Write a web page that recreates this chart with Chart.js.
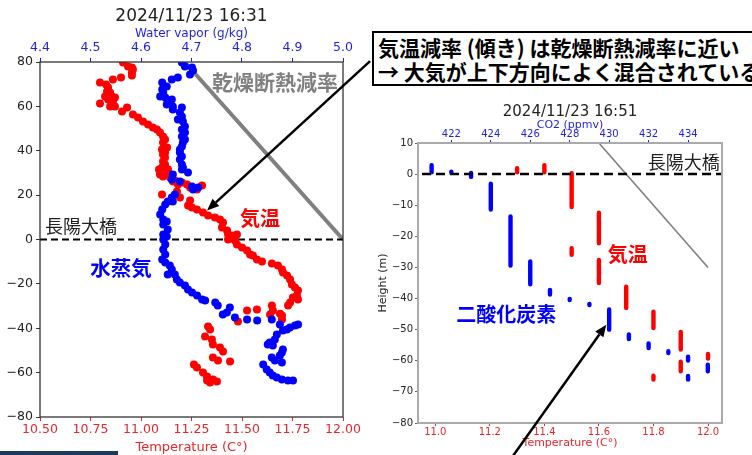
<!DOCTYPE html>
<html>
<head>
<meta charset="utf-8">
<script src="https://cdn.jsdelivr.net/npm/chart.js@4.4.1/dist/chart.umd.min.js"></script>
<style>
body { margin: 0; width: 752px; height: 455px; overflow: hidden; background: #fff; position: relative; }
canvas { position: absolute; }
#left { left: 0; top: 0; }
#right { left: 370px; top: 90px; }
#note {
    position: absolute; left: 372px; top: 31px; width: 420px; height: 55px;
    border: 2px solid #000; background: #fff; padding: 2px 4px; box-sizing: border-box;
    font: bold 21px "Noto Sans CJK JP", sans-serif; line-height: 24px; white-space: nowrap; color: #000;
}
#bar { position: absolute; left: 0; top: 451px; width: 118px; height: 4px; background: #1d3a5c; }
</style>
</head>
<body>
<canvas id="left" width="380" height="455"></canvas>
<canvas id="right" width="382" height="365"></canvas>
<div id="note">気温減率 (傾き) は乾燥断熱減率に近い<br>→ 大気が上下方向によく混合されている</div>
<div id="bar"></div>
<script>
// 16:31 profile: temperature (C) and water vapor (g/kg) against height (m)
const leftTempC = [10.911, 10.936, 10.955, 10.960, 10.955, 10.955, 10.901, 10.797, 10.827, 10.861, 10.837, 10.832, 10.847, 10.822, 10.856, 10.861, 10.871, 10.837, 10.797, 10.871, 10.847, 10.906, 10.931, 10.960, 10.985, 11.010, 11.035, 11.059, 11.079, 11.094, 11.109, 11.119, 11.109, 11.129, 11.104, 11.119, 11.109, 11.119, 11.109, 11.119, 11.104, 11.089, 11.129, 11.094, 11.109, 11.134, 11.144, 11.168, 11.183, 11.228, 11.243, 11.277, 11.302, 11.158, 11.203, 11.178, 11.104, 11.193, 11.243, 11.233, 11.252, 11.277, 11.307, 11.332, 11.366, 11.391, 11.406, 11.401, 11.426, 11.431, 11.450, 11.475, 11.431, 11.465, 11.475, 11.500, 11.525, 11.540, 11.554, 11.574, 11.599, 11.648, 11.678, 11.698, 11.703, 11.723, 11.738, 11.747, 11.762, 11.777, 11.772, 11.752, 11.777, 11.738, 11.728, 11.648, 11.653, 11.639, 11.698, 11.698, 11.688, 11.574, 11.525, 11.480, 11.332, 11.342, 11.317, 11.351, 11.356, 11.391, 11.406, 11.356, 11.441, 11.381, 11.262, 11.277, 11.307, 11.327, 11.356, 11.342, 11.376, 11.327];
const leftTempH = [79.8, 78.0, 77.5, 76.6, 75.3, 73.9, 73.0, 70.8, 69.9, 72.1, 68.5, 66.7, 66.3, 64.5, 64.5, 62.2, 64.0, 63.1, 61.3, 59.9, 59.9, 57.7, 59.5, 56.3, 55.0, 53.2, 51.8, 50.5, 49.6, 48.2, 46.4, 45.1, 43.7, 41.5, 40.6, 39.2, 38.3, 37.0, 35.2, 33.8, 32.5, 31.5, 30.6, 29.3, 28.4, 31.5, 27.9, 26.6, 24.8, 24.8, 23.4, 22.5, 24.3, 26.1, 25.7, 21.6, 20.3, 18.9, 17.6, 15.3, 14.4, 13.5, 12.2, 10.8, 9.9, 9.0, 7.7, 5.4, 4.1, 2.3, 1.8, 2.3, 0.0, -0.5, -2.3, -3.6, -5.0, -6.8, -7.2, -9.0, -9.9, -10.8, -11.7, -13.5, -14.9, -16.2, -18.0, -20.3, -21.6, -23.0, -25.2, -26.1, -27.0, -28.4, -29.7, -29.7, -32.0, -33.8, -34.3, -36.1, -33.5, -31.5, -32.0, -37.0, -39.2, -40.6, -43.7, -45.1, -47.3, -48.7, -50.5, -53.2, -55.0, -54.5, -56.3, -57.7, -59.9, -61.7, -63.1, -64.5, -64.0, -63.5];
const leftVaporGkg = [4.681, 4.687, 4.701, 4.703, 4.697, 4.673, 4.661, 4.642, 4.651, 4.642, 4.644, 4.638, 4.648, 4.653, 4.661, 4.651, 4.663, 4.663, 4.681, 4.677, 4.681, 4.673, 4.683, 4.687, 4.681, 4.687, 4.681, 4.687, 4.683, 4.681, 4.677, 4.677, 4.681, 4.677, 4.681, 4.683, 4.693, 4.681, 4.663, 4.661, 4.677, 4.701, 4.703, 4.713, 4.667, 4.661, 4.663, 4.653, 4.648, 4.642, 4.638, 4.644, 4.651, 4.644, 4.653, 4.644, 4.651, 4.644, 4.648, 4.644, 4.648, 4.642, 4.648, 4.657, 4.661, 4.653, 4.667, 4.671, 4.677, 4.687, 4.693, 4.701, 4.711, 4.721, 4.727, 4.747, 4.752, 4.776, 4.770, 4.762, 4.786, 4.810, 4.830, 4.859, 4.875, 4.895, 4.905, 4.911, 4.889, 4.881, 4.869, 4.865, 4.855, 4.851, 4.861, 4.881, 4.879, 4.875, 4.859, 4.865, 4.879, 4.842, 4.849, 4.855, 4.861, 4.869, 4.879, 4.891, 4.901];
const leftVaporH = [79.8, 78.0, 77.5, 76.2, 74.4, 73.0, 72.1, 70.8, 69.0, 67.6, 66.3, 64.5, 64.0, 62.2, 63.1, 60.8, 59.9, 58.6, 59.5, 57.2, 55.4, 54.1, 53.2, 50.9, 49.6, 48.2, 46.4, 45.1, 43.7, 41.9, 40.6, 39.2, 37.4, 36.1, 33.8, 32.5, 30.2, 31.5, 29.3, 27.0, 26.1, 23.9, 22.5, 23.4, 20.3, 18.9, 17.1, 17.1, 15.8, 13.5, 11.3, 9.0, 8.1, 6.8, 4.5, 2.3, 1.4, 0.0, -2.3, -4.5, -6.8, -9.0, -10.4, -11.7, -13.5, -15.8, -15.8, -18.0, -19.4, -20.7, -22.5, -23.9, -25.2, -27.0, -27.5, -28.4, -29.7, -30.6, -32.9, -33.8, -35.2, -36.1, -36.5, -36.1, -38.3, -39.7, -38.8, -38.3, -40.6, -41.0, -42.8, -45.1, -46.4, -47.3, -47.8, -49.6, -50.9, -52.3, -53.2, -54.5, -55.4, -56.3, -58.6, -59.9, -61.3, -62.2, -63.1, -63.5, -63.5];

// 16:51 profile: each sensor value was held over a run of heights -> top and bottom of each run
const colTempC = [11.3, 11.4, 11.5, 11.5, 11.6, 11.6, 11.7, 11.8, 11.8, 11.9, 11.9, 12.0];
const colTempTop = [1.9, 2.9, 0.3, -23.8, -12.4, -27.6, -36.2, -44.2, -64.8, -50.7, -60.3, -57.8];
const colTempBottom = [0.6, 0.6, -10.6, -25.9, -22.2, -35.0, -43.0, -49.5, -66.0, -56.4, -63.4, -59.3];
const colCo2 = [421, 422, 423, 424, 425, 426, 427, 428, 429, 430, 431, 432, 433, 434, 434, 435];
const colCo2Top = [2.9, 0.8, 0.4, -3.1, -13.6, -28.1, -37.2, -40.1, -41.7, -43.5, -51.5, -54.4, -56.9, -58.7, -64.9, -61.3];
const colCo2Bottom = [0.6, 0.4, -0.9, -11.4, -29.4, -35.4, -38.7, -40.5, -42.1, -50.0, -53.0, -55.9, -57.5, -59.9, -66.0, -63.4];

// reference lines
const bridgeHeight = 0;
const dryLeftT = [12.0, 11.216];
const dryLeftH = [0, 80];
const dryRightT = [12.0, 11.59];
const dryRightH = [-30, 11];

const RED = '#ff0000';
const BLUE = '#0000ff';
const AX_RED = '#e8262b';
const AX_BLUE = '#1f1fe0';
const DEJAVU = '"DejaVu Sans", sans-serif';
const JP = '"Noto Sans CJK JP", sans-serif';

function minus(s) { return String(s).replace('-', '\u2212'); }
function pts(xs, ys) { return xs.map((v, i) => ({ x: v, y: ys[i] })); }
function columns(xs, tops, bottoms) {
    const out = [];
    xs.forEach((v, i) => { out.push({ x: v, y: tops[i] }, { x: v, y: bottoms[i] }, { x: v, y: null }); });
    return out;
}

const annotate = {
    id: 'annotate',
    afterDatasetsDraw(chart, args, opts) {
        const { ctx, chartArea: a } = chart;
        ctx.save();
        ctx.strokeStyle = opts.frameColor;
        ctx.lineWidth = opts.frameWidth;
        ctx.strokeRect(a.left, a.top, a.right - a.left, a.bottom - a.top);
        ctx.restore();
    },
    afterDraw(chart, args, opts) {
        const { ctx, scales: { x, y } } = chart;
        ctx.save();
        opts.labels.forEach(l => {
            ctx.font = l.font;
            ctx.fillStyle = l.color;
            ctx.textAlign = l.align || 'center';
            ctx.textBaseline = 'middle';
            ctx.fillText(l.text, x.getPixelForValue(l.x), y.getPixelForValue(l.y));
        });
        opts.arrows.forEach(ar => {
            const x0 = x.getPixelForValue(ar.from[0]), y0 = y.getPixelForValue(ar.from[1]);
            const x1 = x.getPixelForValue(ar.to[0]), y1 = y.getPixelForValue(ar.to[1]);
            const ang = Math.atan2(y1 - y0, x1 - x0), head = 12, half = 5;
            const bx = x1 - head * Math.cos(ang), by = y1 - head * Math.sin(ang);
            ctx.strokeStyle = '#000';
            ctx.fillStyle = '#000';
            ctx.lineWidth = 2.5;
            ctx.beginPath(); ctx.moveTo(x0, y0); ctx.lineTo(bx, by); ctx.stroke();
            ctx.beginPath();
            ctx.moveTo(x1, y1);
            ctx.lineTo(bx + half * Math.sin(ang), by - half * Math.cos(ang));
            ctx.lineTo(bx - half * Math.sin(ang), by + half * Math.cos(ang));
            ctx.closePath();
            ctx.fill();
        });
        ctx.restore();
    }
};

function scatterSet(xs, ys, color, axis) {
    return { data: pts(xs, ys), xAxisID: axis, pointRadius: 4, pointBorderWidth: 0,
        pointBackgroundColor: color, backgroundColor: color, borderColor: color };
}

new Chart(document.getElementById('left'), {
    type: 'scatter',
    data: {
        datasets: [
            scatterSet(leftVaporGkg, leftVaporH, BLUE, 'x2'),
            scatterSet(leftTempC, leftTempH, RED, 'x'),
            { data: [{ x: 10.5, y: bridgeHeight }, { x: 12.0, y: bridgeHeight }], xAxisID: 'x', showLine: true,
              borderColor: '#000', borderWidth: 2, borderDash: [7, 4], pointRadius: 0 },
            { data: pts(dryLeftT, dryLeftH), xAxisID: 'x', showLine: true, borderColor: '#808080', borderWidth: 4, pointRadius: 0 }
        ]
    },
    plugins: [annotate],
    options: {
        responsive: false, animation: false, events: [],
        layout: { padding: { left: 0, right: 37, top: 0, bottom: 0 } },
        plugins: {
            legend: { display: false }, tooltip: { enabled: false },
            title: { display: true, text: '2024/11/23 16:31', fullSize: false, color: '#222',
                font: { family: DEJAVU, size: 17, weight: 'normal', lineHeight: 1.2 }, padding: { top: 6, bottom: 0 } },
            annotate: {
                frameColor: '#333', frameWidth: 1.3,
                labels: [
                    { text: '乾燥断熱減率', x: 11.663, y: 71.2, color: '#808080', font: 'bold 21px ' + JP },
                    { text: '長陽大橋', x: 10.525, y: 5.9, color: '#222', font: '18px ' + JP, align: 'left' },
                    { text: '気温', x: 11.589, y: 9.7, color: RED, font: 'bold 20px ' + JP },
                    { text: '水蒸気', x: 10.901, y: -13.1, color: BLUE, font: 'bold 20.5px ' + JP }
                ],
                arrows: [{ from: [12.134, 80.4], to: [11.327, 13.1] }]
            }
        },
        scales: {
            x: { type: 'linear', position: 'bottom', min: 10.5, max: 12.0,
                afterFit: s => { s.height = 38; },
                border: { display: false },
                grid: { drawOnChartArea: false, tickLength: 4, tickColor: AX_RED },
                ticks: { stepSize: 0.25, color: AX_RED, padding: 1.5, maxRotation: 0, autoSkip: false,
                    font: { family: DEJAVU, size: 12.5 }, callback: v => v.toFixed(2) },
                title: { display: true, text: 'Temperature (C°)', color: AX_RED, font: { family: DEJAVU, size: 13 }, padding: { top: 0, bottom: 0 } } },
            x2: { type: 'linear', position: 'top', min: 4.4, max: 5.0,
                afterFit: s => { s.height = 35.6; },
                border: { display: false },
                grid: { drawOnChartArea: false, tickLength: 4, tickColor: AX_BLUE },
                ticks: { stepSize: 0.1, color: AX_BLUE, padding: 2.5, maxRotation: 0, autoSkip: false,
                    font: { family: DEJAVU, size: 12.5 }, callback: v => v.toFixed(1) },
                title: { display: true, text: 'Water vapor (g/kg)', color: AX_BLUE, font: { family: DEJAVU, size: 12 }, padding: { top: 0, bottom: 0 } } },
            y: { type: 'linear', min: -80, max: 80,
                afterFit: s => { s.width = 40; },
                border: { display: false },
                grid: { drawOnChartArea: false, tickLength: 4, tickColor: '#333' },
                ticks: { stepSize: 20, color: '#222', padding: 3, font: { family: DEJAVU, size: 12.5 }, callback: v => minus(v) } }
        }
    }
});

new Chart(document.getElementById('right'), {
    type: 'scatter',
    data: {
        datasets: [
            { data: [{ x: 10.9, y: bridgeHeight }, { x: 12.1, y: bridgeHeight }], xAxisID: 'x', showLine: true,
              borderColor: '#000', borderWidth: 2.5, borderDash: [9, 5], pointRadius: 0 },
            { data: columns(colCo2, colCo2Top, colCo2Bottom), xAxisID: 'x2', showLine: true, spanGaps: false,
              borderColor: BLUE, borderWidth: 4.4, borderCapStyle: 'round', pointRadius: 0 },
            { data: columns(colTempC, colTempTop, colTempBottom), xAxisID: 'x', showLine: true, spanGaps: false,
              borderColor: RED, borderWidth: 4.4, borderCapStyle: 'round', pointRadius: 0 },
            { data: pts(dryRightT, dryRightH), xAxisID: 'x', showLine: true, borderColor: '#808080', borderWidth: 1.6, pointRadius: 0 }
        ]
    },
    plugins: [annotate],
    options: {
        responsive: false, animation: false, events: [],
        layout: { padding: { left: 0, right: 30, top: 0, bottom: 0 } },
        plugins: {
            legend: { display: false }, tooltip: { enabled: false },
            title: { display: true, text: '2024/11/23 16:51', fullSize: false, color: '#222',
                font: { family: DEJAVU, size: 15, weight: 'normal', lineHeight: 1 }, padding: { top: 14.2, bottom: 0 } },
            annotate: {
                frameColor: '#aaaaaa', frameWidth: 2,
                labels: [
                    { text: '長陽大橋', x: 11.911, y: 4.0, color: '#222', font: '18px ' + JP },
                    { text: '気温', x: 11.706, y: -25.9, color: RED, font: 'bold 20px ' + JP },
                    { text: '二酸化炭素', x: 11.26, y: -45.2, color: BLUE, font: 'bold 20px ' + JP }
                ],
                arrows: [{ from: [11.275, -91.8], to: [11.627, -48.4] }]
            }
        },
        scales: {
            x: { type: 'linear', position: 'bottom', min: 10.9366, max: 12.0513,
                afterFit: s => { s.height = 32; },
                border: { display: false },
                grid: { drawOnChartArea: false, tickLength: 3, tickColor: AX_RED },
                ticks: { stepSize: 0.2, includeBounds: false, color: AX_RED, padding: 0, maxRotation: 0, autoSkip: false,
                    font: { family: DEJAVU, size: 10 }, callback: v => v.toFixed(1) },
                title: { display: true, text: 'Temperature (C°)', color: AX_RED, font: { family: DEJAVU, size: 11, lineHeight: 1 }, padding: { top: 0, bottom: 6.5 } } },
            x2: { type: 'linear', position: 'top', min: 420.31, max: 435.72,
                afterFit: s => { s.height = 23.8; },
                border: { display: false },
                grid: { drawOnChartArea: false, tickLength: 3, tickColor: AX_BLUE },
                ticks: { stepSize: 2, includeBounds: false, color: AX_BLUE, padding: 0, maxRotation: 0, autoSkip: false,
                    font: { family: DEJAVU, size: 10 }, callback: v => String(v) },
                title: { display: true, text: 'CO2 (ppmv)', color: AX_BLUE, font: { family: DEJAVU, size: 11, lineHeight: 1 }, padding: { top: 0, bottom: 0 } } },
            y: { type: 'linear', min: -80, max: 10,
                afterFit: s => { s.width = 48; },
                border: { display: false },
                grid: { drawOnChartArea: false, tickLength: 3, tickColor: '#666' },
                ticks: { stepSize: 10, color: '#222', padding: 2, font: { family: DEJAVU, size: 10 }, callback: v => minus(v) },
                title: { display: true, text: 'Height (m)', color: '#222', font: { family: DEJAVU, size: 11 }, padding: { top: 6.4, bottom: 0 } } }
        }
    }
});
</script>
</body>
</html>
